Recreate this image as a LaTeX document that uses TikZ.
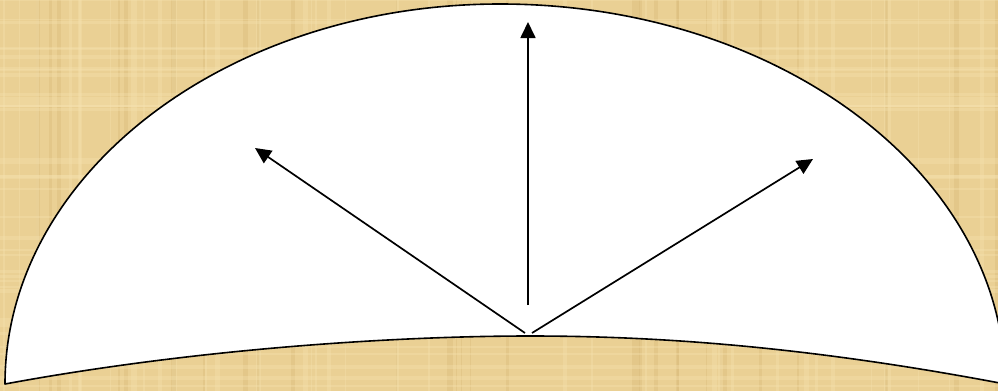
\documentclass[tikz,border=0pt]{standalone}
\usetikzlibrary{arrows.meta}
\definecolor{papyrus}{RGB}{234,208,148}
\definecolor{papyrusdark}{RGB}{214,184,118}
\definecolor{papyruslight}{RGB}{246,226,176}
\begin{document}
\begin{tikzpicture}[x=1pt,y=-1pt,
  outline/.style={draw=black,line width=1.6pt,fill=white,line join=round},
  ray/.style={draw=black,line width=1.7pt,-{Triangle[length=16pt,width=15pt]}},
  fibre/.style={line width=#1,opacity=0.35}]
\useasboundingbox (0,0) rectangle (998,391);
\fill[papyrus] (0,0) rectangle (998,391);
\clip (0,0) rectangle (998,391);
\pgfmathsetseed{7}
\foreach \i in {1,...,70}{
  \pgfmathsetmacro{\xx}{rnd*998}
  \pgfmathsetmacro{\ww}{1+rnd*4}
  \pgfmathparse{rnd>0.5?1:0}
  \ifnum\pgfmathresult=1
    \draw[fibre=\ww pt,papyrusdark] (\xx,0) -- (\xx,391);
  \else
    \draw[fibre=\ww pt,papyruslight] (\xx,0) -- (\xx,391);
  \fi
}
\foreach \i in {1,...,40}{
  \pgfmathsetmacro{\yy}{rnd*391}
  \pgfmathsetmacro{\ww}{1+rnd*3}
  \draw[fibre=\ww pt,papyruslight] (0,\yy) -- (998,\yy);
}
\filldraw[outline] (5,384) .. controls (5,174.2) and (226.8,4) .. (500,4)
  .. controls (778.9,4) and (1005,174.2) .. (1005,384)
  .. controls (800,345) and (650,336) .. (530,336)
  .. controls (400,336) and (200,348) .. (5,384) -- cycle;
\coordinate (vstart) at (528,305);
\coordinate (top) at (528,22);
\coordinate (lefttip) at (255,148);
\coordinate (righttip) at (813,159);
\coordinate (lstart) at (525,333);
\coordinate (rstart) at (532,333);
\draw[ray] (vstart) -- (top);
\draw[ray] (lstart) -- (lefttip);
\draw[ray] (rstart) -- (righttip);
\end{tikzpicture}
\end{document}
